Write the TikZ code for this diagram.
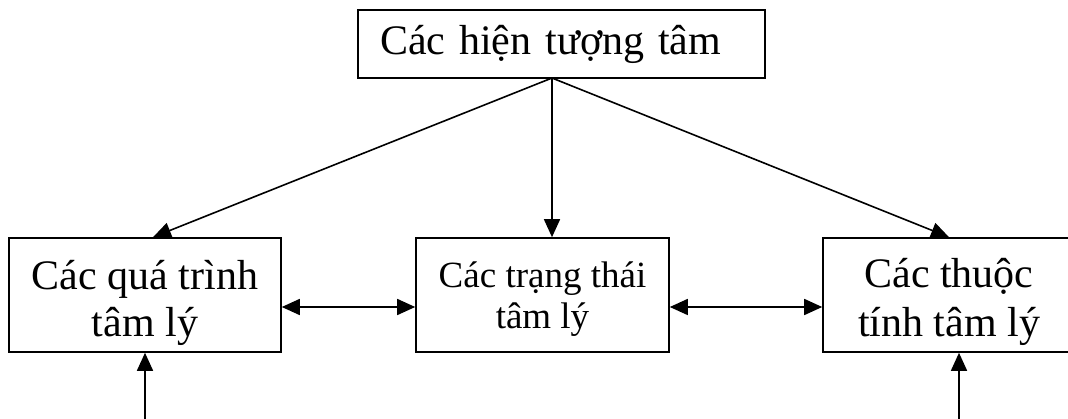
\documentclass[tikz,border=0pt]{standalone}
\usepackage{fontspec}
\setmainfont{Liberation Serif}
\usetikzlibrary{arrows.meta}

\tikzset{
  box/.style={draw, line width=1.6pt, rectangle, align=center, inner sep=0pt, minimum height=114pt},
  link/.style={line width=1.6pt, -{Triangle[length=18pt,width=16pt]}},
  both/.style={line width=1.6pt, {Triangle[length=18pt,width=16pt]}-{Triangle[length=18pt,width=16pt]}}
}

\begin{document}
\begin{tikzpicture}[x=1pt,y=-1pt]
\useasboundingbox (0,0) rectangle (1068,419);
% top box
\node[draw, line width=1.6pt, text width=363pt, inner xsep=22pt, inner ysep=0pt, minimum height=68pt, align=left,
  font=\fontsize{42}{47}\selectfont] (hien) at (561.5,44) {Các hiện tượng tâm};
% three groups
\node[box, minimum width=272pt, font=\fontsize{42}{47}\selectfont] (quatrinh) at (145,295) {\rule{0pt}{46pt}Các quá trình\\tâm lý};
\node[box, minimum width=253pt, font=\fontsize{37}{41}\selectfont] (trangthai) at (542.5,295) {\rule{0pt}{34pt}Các trạng thái\\tâm lý};
\node[box, minimum width=252pt, font=\fontsize{42}{49}\selectfont] (thuoctinh) at (949,295) {\rule{0pt}{44pt}Các thuộc\\tính tâm lý};
\coordinate (apex) at (552,78);
\coordinate (inL) at (145,419);
\coordinate (inR) at (959,419);
% arrows
\draw[link] (apex) -- ([xshift=8pt]quatrinh.north);
\draw[link] (apex) -- (apex |- trangthai.north);
\draw[link] (apex) -- (thuoctinh.north);
\draw[both] (quatrinh.east |- 0,307) -- (trangthai.west |- 0,307);
\draw[both] (trangthai.east |- 0,307) -- (thuoctinh.west |- 0,307);
\draw[link] (inL) -- (inL |- quatrinh.south);
\draw[link] (inR) -- (inR |- thuoctinh.south);
\end{tikzpicture}
\end{document}
